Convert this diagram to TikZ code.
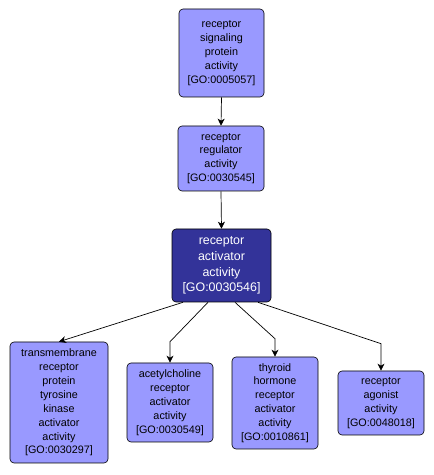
\documentclass[tikz,border=0pt]{standalone}
\usepackage{fontspec}
\setmainfont{Liberation Sans}
\usetikzlibrary{arrows.meta,calc}
\begin{document}
\begin{tikzpicture}[x=1pt,y=1pt,
  goterm/.style={draw=black, line width=0.6pt, rounded corners=4pt, fill=light, align=center,
     inner sep=0pt, font=\fontsize{10.8}{13.9}\selectfont, text=black},
  goactive/.style={goterm, fill=dark, text=white, font=\fontsize{12.4}{15.6}\selectfont},
  link/.style={draw=black, line width=0.7pt, -{Stealth[length=7pt,width=7pt,inset=2pt]}}
]
\definecolor{light}{HTML}{9999FF}
\definecolor{dark}{HTML}{333399}
\useasboundingbox (0,0) rectangle (434,475);
\fill[white] (0,0) rectangle (434,475);

\node[goterm, minimum width=85, minimum height=88] (n1) at (221.5,422)
  {receptor\\signaling\\protein\\activity\\{[GO:0005057]}};
\node[goterm, minimum width=86, minimum height=65] (n2) at (221,316.5)
  {receptor\\regulator\\activity\\{[GO:0030545]}};
\node[goactive, minimum width=99, minimum height=73] (n3) at (221.5,209.5)
  {receptor\\activator\\activity\\{[GO:0030546]}};
\node[goterm, minimum width=98, minimum height=121] (n4) at (59,72.5)
  {transmembrane\\receptor\\protein\\tyrosine\\kinase\\activator\\activity\\{[GO:0030297]}};
\node[goterm, minimum width=86, minimum height=79] (n5) at (170,72.5)
  {acetylcholine\\receptor\\activator\\activity\\{[GO:0030549]}};
\node[goterm, minimum width=86, minimum height=92] (n6) at (275,72)
  {thyroid\\hormone\\receptor\\activator\\activity\\{[GO:0010861]}};
\node[goterm, minimum width=86, minimum height=64] (n7) at (381,72)
  {receptor\\agonist\\activity\\{[GO:0048018]}};

\draw[link] (n1.south) -- (n2.north);
\draw[link] (n2.south) -- (n3.north);
\draw[link] ($(n3.south)+(-38.5,0)$) -- (n4.north);
\draw[link] ($(n3.south)+(-13.5,0)$) -- ($(n5.north)+(0,21)$) -- (n5.north);
\draw[link] ($(n3.south)+(13.5,0)$) -- ($(n6.north)+(0,18)$) -- (n6.north);
\draw[link] ($(n3.south)+(36.5,0)$) -- ($(n7.north)+(0,27)$) -- (n7.north);
\end{tikzpicture}
\end{document}
